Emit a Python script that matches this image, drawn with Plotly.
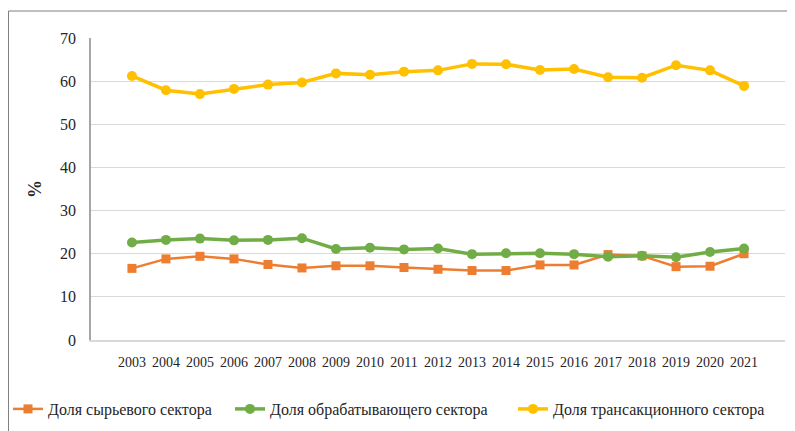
import plotly.graph_objects as go

years = [str(y) for y in range(2003, 2022)]
raw_share = [16.6, 18.8, 19.4, 18.8, 17.5, 16.7, 17.2, 17.2, 16.8, 16.4, 16.1, 16.1, 17.4, 17.4, 19.8, 19.5, 17.0, 17.1, 20.0]
manuf_share = [22.6, 23.2, 23.5, 23.1, 23.2, 23.6, 21.1, 21.4, 21.0, 21.2, 19.9, 20.1, 20.1, 19.9, 19.3, 19.5, 19.2, 20.4, 21.2]
trans_share = [61.2, 57.9, 57.0, 58.2, 59.2, 59.7, 61.8, 61.5, 62.2, 62.5, 64.0, 63.9, 62.6, 62.8, 60.9, 60.8, 63.7, 62.5, 58.9]
names = ["Доля сырьевого сектора", "Доля обрабатывающего сектора", "Доля трансакционного сектора"]

# page has an 8px body margin; figure coordinates = page coordinates - 8
W, H = 787, 423
ml, mr, mt, mb = 83, 10, 30, 91
pw, ph = W - ml - mr, H - mt - mb
FONT = "Liberation Serif"
TXT = "#262626"

def px_x(p):
    return (p - ml) / pw

def px_y(p):
    return (H - mb - p) / ph

fig = go.Figure()
fig.add_trace(go.Scatter(x=years, y=raw_share, name=names[0], mode="lines+markers", legend="legend",
                         line=dict(color="#ED7D31", width=2.5),
                         marker=dict(symbol="square", size=9, color="#ED7D31")))
fig.add_trace(go.Scatter(x=years, y=manuf_share, name=names[1], mode="lines+markers", legend="legend2",
                         line=dict(color="#70AD47", width=3.5),
                         marker=dict(symbol="circle", size=10, color="#70AD47")))
fig.add_trace(go.Scatter(x=years, y=trans_share, name=names[2], mode="lines+markers", legend="legend3",
                         line=dict(color="#FFC000", width=3.5),
                         marker=dict(symbol="circle", size=10, color="#FFC000")))

xl, yt = px_x(0.5), px_y(3)
fig.add_shape(type="path", xref="paper", yref="paper",
              path=f"M {xl} {px_y(440)} L {xl} {yt} L {px_x(800)} {yt}",
              line=dict(color="#808080", width=1))

leg_common = dict(orientation="h", yanchor="middle", y=px_y(401), xanchor="left",
                  font=dict(size=16, family=FONT, color=TXT), itemwidth=30,
                  bgcolor="rgba(0,0,0,0)", borderwidth=0)

fig.update_layout(
    template="none",
    width=W, height=H,
    margin=dict(l=ml, r=mr, t=mt, b=mb, autoexpand=False),
    paper_bgcolor="white", plot_bgcolor="white",
    showlegend=True,
    legend=dict(x=px_x(0), **leg_common),
    legend2=dict(x=px_x(222), **leg_common),
    legend3=dict(x=px_x(505), **leg_common),
    xaxis=dict(type="category", showgrid=False, showline=True, linecolor="#d9d9d9", linewidth=1.5,
               zeroline=False, ticks="", tickangle=0, tickfont=dict(size=14, family=FONT, color=TXT),
               ticklabelstandoff=8, fixedrange=True),
    yaxis=dict(range=[0, 70], dtick=10, showgrid=True, gridcolor="#d9d9d9", gridwidth=1,
               showline=True, linecolor="#a6a6a6", linewidth=1.5, zeroline=False,
               ticks="", tickfont=dict(size=16, family=FONT, color=TXT), ticklabelstandoff=10,
               title=dict(text="<b>%</b>", font=dict(size=18, family=FONT, color=TXT), standoff=14)),
)

fig.write_html("out.html")
